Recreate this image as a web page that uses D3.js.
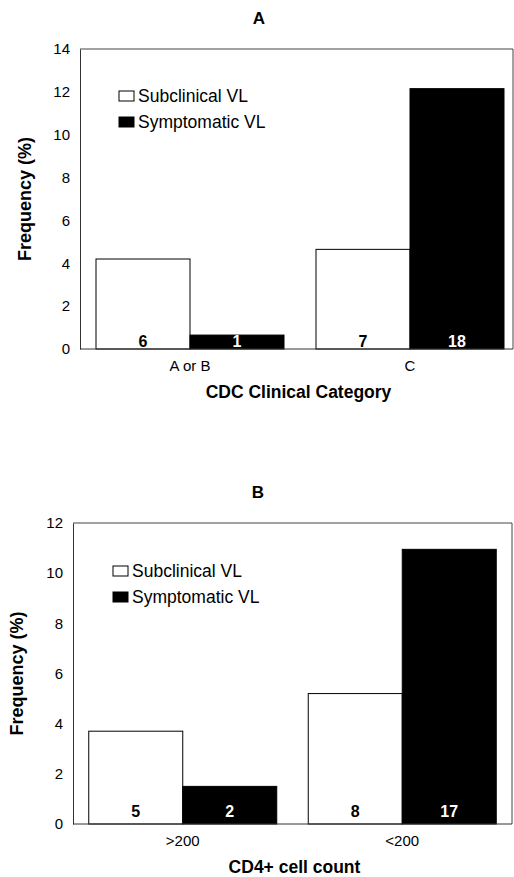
<!DOCTYPE html>
<html lang="en">
<head>
  <meta charset="UTF-8">
  <title>VL frequency by CDC category and CD4+ count</title>
  <script src="https://d3js.org/d3.v7.min.js"></script>
  <style>
    body {
      margin: 0;
      background: #fff;
      font-family: "Liberation Sans", Arial, sans-serif;
    }
  </style>
</head>
<body>
  <div id="chart"></div>

  <script>
    // Panel A: CDC clinical category
    const catsA = ["A or B", "C"];
    const subclinicalA = [4.2, 4.65];
    const symptomaticA = [0.65, 12.15];
    const countsSubA = [6, 7];
    const countsSymA = [1, 18];
    const ticksA = [0, 2, 4, 6, 8, 10, 12, 14];

    // Panel B: CD4+ cell count
    const catsB = [">200", "<200"];
    const subclinicalB = [3.7, 5.2];
    const symptomaticB = [1.5, 10.95];
    const countsSubB = [5, 8];
    const countsSymB = [2, 17];
    const ticksB = [0, 2, 4, 6, 8, 10, 12];

    const seriesNames = ["Subclinical VL", "Symptomatic VL"];
    const seriesColors = ["#fff", "#000"];

    const W = 514, H = 877;

    const svg = d3.select("#chart")
                  .append("svg")
                  .attr("width", W)
                  .attr("height", H);

    function drawPanel(p) {
      const g = svg.append("g");

      const x = d3.scaleBand()
                  .domain(p.cats)
                  .range([p.left, p.left + 2 * p.band])
                  .paddingInner(0)
                  .paddingOuter(0);

      const y = d3.scaleLinear()
                  .domain([0, d3.max(p.ticks)])
                  .range([p.bottom, p.top]);

      const barW = p.barW;

      // frame: top + right lines
      g.append("path")
       .attr("d", `M${p.left},${p.top}H${p.right}V${p.bottom}`)
       .attr("fill", "none")
       .attr("stroke", "#444")
       .attr("stroke-width", 1);

      const rows = p.cats.map((c, i) => ({
        cat: c,
        vals: [p.sub[i], p.sym[i]],
        counts: [p.cSub[i], p.cSym[i]]
      }));

      const bars = [];
      rows.forEach(r => {
        r.vals.forEach((v, k) => {
          bars.push({cat: r.cat, k: k, v: v, n: r.counts[k]});
        });
      });

      const cx = d => x(d.cat) + x.bandwidth() / 2;

      g.selectAll(".bar")
       .data(bars)
       .enter()
       .append("rect")
       .attr("class", "bar")
       .attr("x", d => d.k === 0 ? cx(d) - barW : cx(d))
       .attr("y", d => y(d.v))
       .attr("width", barW)
       .attr("height", d => y(0) - y(d.v))
       .attr("fill", d => seriesColors[d.k])
       .attr("stroke", "#000")
       .attr("stroke-width", 1);

      g.selectAll(".count")
       .data(bars)
       .enter()
       .append("text")
       .attr("x", d => d.k === 0 ? cx(d) - barW / 2 : cx(d) + barW / 2)
       .attr("y", y(0) - p.countGap)
       .attr("text-anchor", "middle")
       .style("font-size", "16px")
       .style("font-weight", "bold")
       .style("fill", d => d.k === 0 ? "#000" : "#fff")
       .text(d => d.n);

      // axes
      const yAxis = g.append("g")
       .attr("transform", `translate(${p.left},0)`)
       .call(d3.axisLeft(y).tickValues(p.ticks).tickSize(0).tickPadding(10));
      yAxis.select(".domain").attr("stroke", "#333");
      yAxis.selectAll("text")
           .style("font-size", "15px")
           .style("font-family", "'Liberation Sans', Arial, sans-serif")
           .attr("fill", "#000");

      const xAxis = g.append("g")
       .attr("transform", `translate(0,${p.bottom})`)
       .call(d3.axisBottom(x).tickSize(0).tickPadding(11));
      xAxis.select(".domain").remove();
      xAxis.selectAll("text")
           .style("font-size", "15px")
           .style("font-family", "'Liberation Sans', Arial, sans-serif")
           .attr("fill", "#000");
      g.append("line")
       .attr("x1", p.left).attr("x2", p.right)
       .attr("y1", p.bottom).attr("y2", p.bottom)
       .attr("stroke", "#333");

      // titles
      g.append("text")
       .attr("x", p.titleX)
       .attr("y", p.titleY)
       .attr("text-anchor", "middle")
       .style("font-size", "17px")
       .style("font-weight", "bold")
       .text(p.title);

      g.append("text")
       .attr("x", (p.left + p.right) / 2 + 2)
       .attr("y", p.bottom + 49)
       .attr("text-anchor", "middle")
       .style("font-size", "17.5px")
       .style("font-weight", "bold")
       .text(p.xTitle);

      g.append("text")
       .attr("transform", `translate(${p.yTitleX},${(p.top + p.bottom) / 2}) rotate(-90)`)
       .attr("text-anchor", "middle")
       .style("font-size", "18px")
       .style("font-weight", "bold")
       .text("Frequency (%)");

      // legend
      const leg = g.selectAll(".leg")
       .data(seriesNames)
       .enter()
       .append("g")
       .attr("transform", (d, i) => `translate(${p.legX},${p.legY + i * 26})`);
      leg.append("rect")
         .attr("x", 0).attr("y", -11)
         .attr("width", 15).attr("height", 10)
         .attr("fill", (d, i) => seriesColors[i])
         .attr("stroke", "#000");
      leg.append("text")
         .attr("x", 19)
         .attr("y", 0)
         .style("font-size", "17.5px")
         .text(d => d);
    }

    drawPanel({
      title: "A", titleX: 259, titleY: 24,
      cats: catsA, sub: subclinicalA, sym: symptomaticA,
      cSub: countsSubA, cSym: countsSymA, ticks: ticksA,
      left: 80, right: 513, top: 49, bottom: 349, band: 220, barW: 94,
      countGap: 2, xTitle: "CDC Clinical Category", yTitleX: 31,
      legX: 119, legY: 102
    });

    drawPanel({
      title: "B", titleX: 258, titleY: 498,
      cats: catsB, sub: subclinicalB, sym: symptomaticB,
      cSub: countsSubB, cSym: countsSymB, ticks: ticksB,
      left: 73, right: 512, top: 523, bottom: 824, band: 219.5, barW: 94,
      countGap: 7, xTitle: "CD4+ cell count", yTitleX: 23,
      legX: 113, legY: 577
    });
  </script>
</body>
</html>
